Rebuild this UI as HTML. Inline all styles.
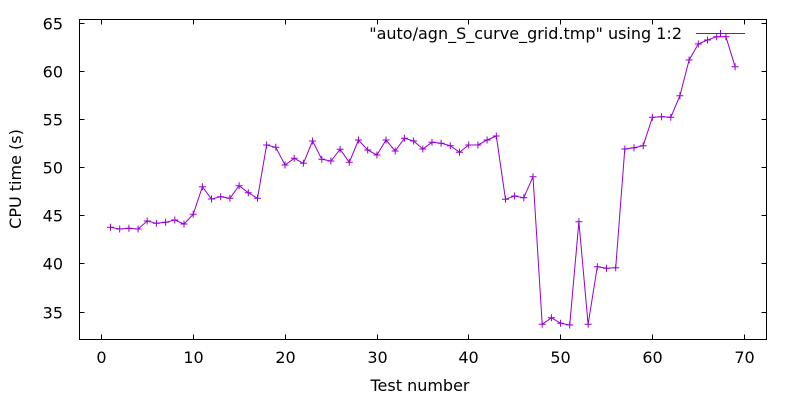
<!DOCTYPE html>
<html><head><meta charset="utf-8"><style>
html,body{margin:0;padding:0;background:#fff;}
svg{display:block;}
text{font-family:"DejaVu Sans","Liberation Sans",sans-serif;font-size:16px;fill:#000;}
</style></head><body>
<svg width="800" height="400" viewBox="0 0 800 400" xmlns="http://www.w3.org/2000/svg">
<rect x="0" y="0" width="800" height="400" fill="#fff"/>
<g stroke="#000" stroke-width="1" fill="none">
<rect x="79.5" y="19.5" width="687" height="320"/>
<!-- y ticks -->
<path d="M79.5 23.5h5M766.5 23.5h-5M79.5 71.5h5M766.5 71.5h-5M79.5 119.5h5M766.5 119.5h-5M79.5 167.5h5M766.5 167.5h-5M79.5 215.5h5M766.5 215.5h-5M79.5 263.5h5M766.5 263.5h-5M79.5 312.5h5M766.5 312.5h-5"/>
<!-- x ticks -->
<path d="M101.5 339.5v-5M101.5 19.5v5M193.5 339.5v-5M193.5 19.5v5M285.5 339.5v-5M285.5 19.5v5M377.5 339.5v-5M377.5 19.5v5M468.5 339.5v-5M468.5 19.5v5M560.5 339.5v-5M560.5 19.5v5M652.5 339.5v-5M652.5 19.5v5M744.5 339.5v-5M744.5 19.5v5"/>
</g>
<g text-anchor="end">
<text x="63" y="29.5">65</text>
<text x="63" y="77.5">60</text>
<text x="63" y="125.5">55</text>
<text x="63" y="173.5">50</text>
<text x="63" y="221.5">45</text>
<text x="63" y="269.5">40</text>
<text x="63" y="318.5">35</text>
</g>
<g text-anchor="middle">
<text x="101.5" y="363">0</text>
<text x="193.5" y="363">10</text>
<text x="285.5" y="363">20</text>
<text x="377.5" y="363">30</text>
<text x="468.5" y="363">40</text>
<text x="560.5" y="363">50</text>
<text x="652.5" y="363">60</text>
<text x="744.5" y="363">70</text>
<text x="420" y="391">Test number</text>
<text x="0" y="0" transform="translate(21,179) rotate(-90)">CPU time (s)</text>
</g>
<text x="682" y="39" text-anchor="end">"auto/agn_S_curve_grid.tmp" using 1:2</text>
<g stroke="#9400d3" stroke-width="1" fill="none">
<path d="M696 33.5H745M717 33.5h7M720.5 30v7"/>
<polyline id="ln" points="110.5,227.3 119.7,229 128.9,228.3 138.1,229 147.2,221 156.4,223.3 165.6,222.3 174.8,220 184,224 193.2,214.3 202.4,186.7 211.5,199 220.7,196.7 229.9,198.3 239.1,185.7 248.3,192.7 257.5,198.3 266.6,145 275.8,147.3 285,165 294.2,158.3 303.4,163.3 312.6,141 321.8,159.3 330.9,161 340.1,149.3 349.3,162.3 358.5,140 367.7,150 376.9,155 386,140 395.2,151 404.4,138.3 413.6,141 422.8,149 432,142.3 441.1,143.3 450.3,145.7 459.5,152.3 468.7,145 477.9,145 487.1,140 496.3,136 505.5,199.3 514.6,196 523.8,197.7 533,176.7 542.2,324.3 551.4,317.7 560.6,323.3 569.7,325 578.9,221.7 588.1,324.3 597.3,266.7 606.5,268.3 615.7,267.7 624.8,149 634,147.7 643.2,145.7 652.4,117.3 661.6,116.7 670.8,117.3 679.9,95.7 689.1,60 698.3,44 707.5,40 716.7,36.7 725.9,36.7 735.1,66.7"/>
<path d="M107 227.3h7M110.5 223.8v7M116.2 229h7M119.7 225.5v7M125.4 228.3h7M128.9 224.8v7M134.6 229h7M138.1 225.5v7M143.7 221h7M147.2 217.5v7M152.9 223.3h7M156.4 219.8v7M162.1 222.3h7M165.6 218.8v7M171.3 220h7M174.8 216.5v7M180.5 224h7M184 220.5v7M189.7 214.3h7M193.2 210.8v7M198.9 186.7h7M202.4 183.2v7M208 199h7M211.5 195.5v7M217.2 196.7h7M220.7 193.2v7M226.4 198.3h7M229.9 194.8v7M235.6 185.7h7M239.1 182.2v7M244.8 192.7h7M248.3 189.2v7M254 198.3h7M257.5 194.8v7M263.1 145h7M266.6 141.5v7M272.3 147.3h7M275.8 143.8v7M281.5 165h7M285 161.5v7M290.7 158.3h7M294.2 154.8v7M299.9 163.3h7M303.4 159.8v7M309.1 141h7M312.6 137.5v7M318.3 159.3h7M321.8 155.8v7M327.4 161h7M330.9 157.5v7M336.6 149.3h7M340.1 145.8v7M345.8 162.3h7M349.3 158.8v7M355 140h7M358.5 136.5v7M364.2 150h7M367.7 146.5v7M373.4 155h7M376.9 151.5v7M382.5 140h7M386 136.5v7M391.7 151h7M395.2 147.5v7M400.9 138.3h7M404.4 134.8v7M410.1 141h7M413.6 137.5v7M419.3 149h7M422.8 145.5v7M428.5 142.3h7M432 138.8v7M437.6 143.3h7M441.1 139.8v7M446.8 145.7h7M450.3 142.2v7M456 152.3h7M459.5 148.8v7M465.2 145h7M468.7 141.5v7M474.4 145h7M477.9 141.5v7M483.6 140h7M487.1 136.5v7M492.8 136h7M496.3 132.5v7M502 199.3h7M505.5 195.8v7M511.1 196h7M514.6 192.5v7M520.3 197.7h7M523.8 194.2v7M529.5 176.7h7M533 173.2v7M538.7 324.3h7M542.2 320.8v7M547.9 317.7h7M551.4 314.2v7M557.1 323.3h7M560.6 319.8v7M566.2 325h7M569.7 321.5v7M575.4 221.7h7M578.9 218.2v7M584.6 324.3h7M588.1 320.8v7M593.8 266.7h7M597.3 263.2v7M603 268.3h7M606.5 264.8v7M612.2 267.7h7M615.7 264.2v7M621.3 149h7M624.8 145.5v7M630.5 147.7h7M634 144.2v7M639.7 145.7h7M643.2 142.2v7M648.9 117.3h7M652.4 113.8v7M658.1 116.7h7M661.6 113.2v7M667.3 117.3h7M670.8 113.8v7M676.4 95.7h7M679.9 92.2v7M685.6 60h7M689.1 56.5v7M694.8 44h7M698.3 40.5v7M704 40h7M707.5 36.5v7M713.2 36.7h7M716.7 33.2v7M722.4 36.7h7M725.9 33.2v7M731.6 66.7h7M735.1 63.2v7"/>
</g>
</svg>
</body></html>
